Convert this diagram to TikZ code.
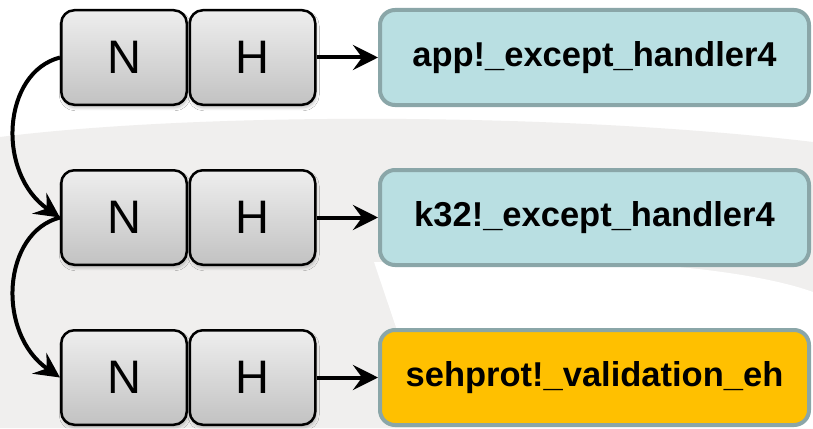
\documentclass[tikz,border=0pt]{standalone}
\usepackage{fontspec}
\setmainfont{Liberation Sans}
\usetikzlibrary{arrows.meta,shadows.blur}

\definecolor{swoosh}{HTML}{F0EFEE}
\definecolor{tealfill}{HTML}{B9DFE2}
\definecolor{tealedge}{HTML}{8AA6A8}
\definecolor{goldfill}{HTML}{FFC000}
\definecolor{keytop}{HTML}{EEEEEE}
\definecolor{keybot}{HTML}{C2C2C2}

\tikzset{
  cell/.style={draw=black, line width=2.5pt, rounded corners=13pt,
    top color=keytop, bottom color=keybot,
    minimum width=125.5pt, minimum height=94.5pt, inner sep=0pt,
    font=\fontsize{47}{50}\selectfont,
    blur shadow={shadow xshift=1pt, shadow yshift=-3pt,
      shadow blur radius=3pt, shadow blur steps=6, shadow opacity=25}},
  handler/.style={draw=tealedge, line width=4pt, rounded corners=15pt,
    minimum width=429pt, minimum height=95pt, inner sep=0pt,
    font=\bfseries\fontsize{34.5}{38}\selectfont},
  ptr/.style={line width=4pt, -{Stealth[length=25pt,width=25pt,inset=9pt]}},
}

\begin{document}
\begin{tikzpicture}[x=1pt, y=-1pt]
  % canvas
  \fill[white] (0,0) rectangle (813,428);
  \useasboundingbox (0,0) rectangle (813,428);

  % soft grey swoosh behind the chain
  \fill[swoosh] (0,137) .. controls (200,112) and (560,112) .. (813,142)
    -- (813,428) -- (0,428) -- cycle;
  \fill[white] (374,262) -- (640,264) .. controls (720,269) and (780,280) .. (813,292)
    -- (813,428) -- (430,428) -- cycle;

  % exception registration records: Next / Handler
  \node[cell] (n1) at (124,57.5)  {N};
  \node[cell] (h1) at (252.5,57.5) {H};
  \node[cell] (n2) at (124,217.5) {N};
  \node[cell] (h2) at (252.5,217.5) {H};
  \node[cell] (n3) at (124,377.5) {N};
  \node[cell] (h3) at (252.5,377.5) {H};

  % handler routines
  \node[handler, fill=tealfill] (f1) at (594.5,57.5)  {app!\_except\_handler4};
  \node[handler, fill=tealfill] (f2) at (594.5,217.5) {k32!\_except\_handler4};
  \node[handler, fill=goldfill] (f3) at (594.5,377.5) {sehprot!\_validation\_eh};

  % handler pointers
  \draw[ptr] (h1.east) -- (f1.west);
  \draw[ptr] (h2.east) -- (f2.west);
  \draw[ptr] (h3.east) -- (f3.west);

  % next-record links
  \draw[ptr] (n1.west) .. controls ++(-58,15) and ++(-64,-44) .. (n2.west);
  \draw[ptr] (n2.west) .. controls ++(-58,15) and ++(-64,-44) .. (n3.west);
\end{tikzpicture}
\end{document}
